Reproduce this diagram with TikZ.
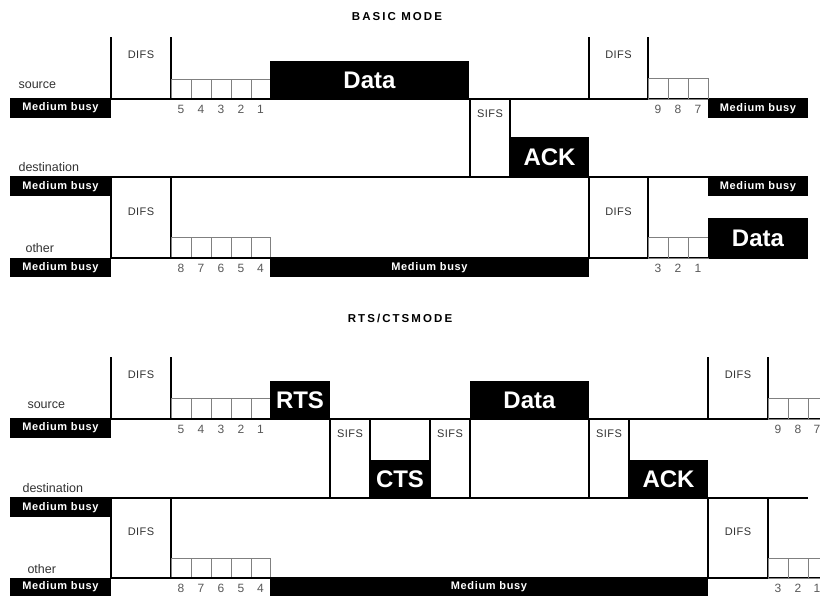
\documentclass[tikz,border=0pt]{standalone}
\usepackage{fontspec}
\setmainfont{Liberation Sans}
\usepackage{tikz}
\usepackage{xcolor}

\begin{document}
\begin{tikzpicture}[x=1pt,y=-1pt,line width=1.1pt,
  every node/.style={inner sep=0pt},
  slot/.style={draw=black!50,line width=0.9pt},
  title/.style={font=\bfseries\fontsize{11.5}{13}\selectfont\addfontfeature{LetterSpace=18}},
  lbl/.style={anchor=base west,text=black!80,font=\fontsize{12.5}{14}\selectfont},
  ifs/.style={text=black!80,font=\fontsize{11}{13}\selectfont\addfontfeature{LetterSpace=4}},
  num/.style={text=black!65,font=\fontsize{12}{14}\selectfont},
  busytxt/.style={text=white,font=\bfseries\fontsize{11}{13}\selectfont\addfontfeature{LetterSpace=6}},
  frame/.style={text=white,font=\bfseries\fontsize{24}{28}\selectfont}]
\clip (0,0) rectangle (820,595);
\fill[white] (0,0) rectangle (820,595);

% ---------------- basic mode
\node[title] (basic) at (397,16.5) {BASIC MODE};
\node[lbl] (src1) at (18,88) {source};
\node[lbl] (dst1) at (18,171) {destination};
\node[lbl] (oth1) at (25,252) {other};

% source
\fill (10,98) rectangle (111,118);
\node[busytxt] (b1) at (60.5,108) {Medium busy};
\draw (111,37) -- (111,99);
\draw (171,37) -- (171,99);
\node[ifs] (difs1) at (141,55) {DIFS};
\draw[slot] (171,79) rectangle (191,99);
\draw[slot] (191,79) rectangle (211,99);
\draw[slot] (211,79) rectangle (231,99);
\draw[slot] (231,79) rectangle (251,99);
\draw[slot] (251,79) rectangle (270,99);
\node[num] (n15) at (181,109.5) {5};
\node[num] (n14) at (201,109.5) {4};
\node[num] (n13) at (221,109.5) {3};
\node[num] (n12) at (241,109.5) {2};
\node[num] (n11) at (260.5,109.5) {1};
\fill (270,61) rectangle (469,99);
\node[frame] (data1) at (369.5,80) {Data};
\draw (111,99) -- (808,99);
\draw (589,37) -- (589,99);
\draw (648,37) -- (648,99);
\node[ifs] (difs2) at (618.5,55) {DIFS};
\draw[slot] (648,78) rectangle (668,99);
\draw[slot] (668,78) rectangle (688,99);
\draw[slot] (688,78) rectangle (708,99);
\node[num] (n19) at (658,109.5) {9};
\node[num] (n18) at (678,109.5) {8};
\node[num] (n17) at (698,109.5) {7};
\fill (708,99) rectangle (808,118);
\node[busytxt] (b2) at (758,108.5) {Medium busy};

% destination
\draw (470,99) -- (470,177);
\draw (510,99) -- (510,177);
\node[ifs] (sifs1) at (490,114) {SIFS};
\fill (510,137) rectangle (589,177);
\node[frame] (ack1) at (549.5,157) {ACK};
\draw (10,177) -- (808,177);
\fill (10,177) rectangle (111,196);
\node[busytxt] (b3) at (60.5,186.5) {Medium busy};
\fill (708,177) rectangle (808,196);
\node[busytxt] (b4) at (758,186.5) {Medium busy};

% other
\draw (111,177) -- (111,258);
\draw (171,177) -- (171,258);
\node[ifs] (difs3) at (141,212) {DIFS};
\draw[slot] (171,237) rectangle (191,258);
\draw[slot] (191,237) rectangle (211,258);
\draw[slot] (211,237) rectangle (231,258);
\draw[slot] (231,237) rectangle (251,258);
\draw[slot] (251,237) rectangle (270,258);
\node[num] (n28) at (181,268.5) {8};
\node[num] (n27) at (201,268.5) {7};
\node[num] (n26) at (221,268.5) {6};
\node[num] (n25) at (241,268.5) {5};
\node[num] (n24) at (260.5,268.5) {4};
\draw (111,258) -- (808,258);
\fill (10,258) rectangle (111,277);
\node[busytxt] (b5) at (60.5,267.5) {Medium busy};
\fill (270,258) rectangle (589,277);
\node[busytxt] (b6) at (429.5,267.5) {Medium busy};
\draw (589,177) -- (589,258);
\draw (648,177) -- (648,258);
\node[ifs] (difs4) at (618.5,212) {DIFS};
\draw[slot] (648,237) rectangle (668,258);
\draw[slot] (668,237) rectangle (688,258);
\draw[slot] (688,237) rectangle (708,258);
\node[num] (n23) at (658,268.5) {3};
\node[num] (n22) at (678,268.5) {2};
\node[num] (n21) at (698,268.5) {1};
\fill (708,218) rectangle (808,258);
\node[frame] (data2) at (758,238) {Data};

% ---------------- rts/cts mode
\node[title] (rtscts) at (400,318) {RTS/CTSMODE};
\node[lbl] (src2) at (27,408) {source};
\node[lbl] (dst2) at (22,492) {destination};
\node[lbl] (oth2) at (27,573) {other};

% source
\fill (10,418) rectangle (111,438);
\node[busytxt] (b7) at (60.5,428) {Medium busy};
\draw (111,357) -- (111,419);
\draw (171,357) -- (171,419);
\node[ifs] (difs5) at (141,375) {DIFS};
\draw[slot] (171,398) rectangle (191,419);
\draw[slot] (191,398) rectangle (211,419);
\draw[slot] (211,398) rectangle (231,419);
\draw[slot] (231,398) rectangle (251,419);
\draw[slot] (251,398) rectangle (270,419);
\node[num] (m15) at (181,429.5) {5};
\node[num] (m14) at (201,429.5) {4};
\node[num] (m13) at (221,429.5) {3};
\node[num] (m12) at (241,429.5) {2};
\node[num] (m11) at (260.5,429.5) {1};
\fill (270,381) rectangle (330,419);
\node[frame] (rts) at (300,400) {RTS};
\fill (470,381) rectangle (589,419);
\node[frame] (data3) at (529.5,400) {Data};
\draw (111,419) -- (820,419);
\draw (708,357) -- (708,419);
\draw (768,357) -- (768,419);
\node[ifs] (difs6) at (738,375) {DIFS};
\draw[slot] (768,398) rectangle (788,419);
\draw[slot] (788,398) rectangle (808,419);
\draw[slot] (808,398) rectangle (828,419);
\node[num] (m19) at (778,429.5) {9};
\node[num] (m18) at (798,429.5) {8};
\node[num] (m17) at (817,429.5) {7};

% destination
\draw (330,419) -- (330,498);
\draw (370,419) -- (370,498);
\node[ifs] (sifs2) at (350,434) {SIFS};
\fill (370,460) rectangle (430,498);
\node[frame] (cts) at (400,479) {CTS};
\draw (430,419) -- (430,498);
\draw (470,419) -- (470,498);
\node[ifs] (sifs3) at (450,434) {SIFS};
\draw (589,419) -- (589,498);
\draw (629,419) -- (629,498);
\node[ifs] (sifs4) at (609,434) {SIFS};
\fill (629,460) rectangle (708,498);
\node[frame] (ack2) at (668.5,479) {ACK};
\draw (10,498) -- (808,498);
\fill (10,498) rectangle (111,517);
\node[busytxt] (b8) at (60.5,507.5) {Medium busy};

% other
\draw (111,498) -- (111,578);
\draw (171,498) -- (171,578);
\node[ifs] (difs7) at (141,532) {DIFS};
\draw[slot] (171,558) rectangle (191,578);
\draw[slot] (191,558) rectangle (211,578);
\draw[slot] (211,558) rectangle (231,578);
\draw[slot] (231,558) rectangle (251,578);
\draw[slot] (251,558) rectangle (270,578);
\node[num] (m28) at (181,588.5) {8};
\node[num] (m27) at (201,588.5) {7};
\node[num] (m26) at (221,588.5) {6};
\node[num] (m25) at (241,588.5) {5};
\node[num] (m24) at (260.5,588.5) {4};
\draw (111,578) -- (820,578);
\fill (10,578) rectangle (111,597);
\node[busytxt] (b9) at (60.5,587) {Medium busy};
\fill (270,578) rectangle (708,597);
\node[busytxt] (b10) at (489,587) {Medium busy};
\draw (708,498) -- (708,578);
\draw (768,498) -- (768,578);
\node[ifs] (difs8) at (738,532) {DIFS};
\draw[slot] (768,558) rectangle (788,578);
\draw[slot] (788,558) rectangle (808,578);
\draw[slot] (808,558) rectangle (828,578);
\node[num] (m23) at (778,588.5) {3};
\node[num] (m22) at (798,588.5) {2};
\node[num] (m21) at (817,588.5) {1};
\end{tikzpicture}
\end{document}
